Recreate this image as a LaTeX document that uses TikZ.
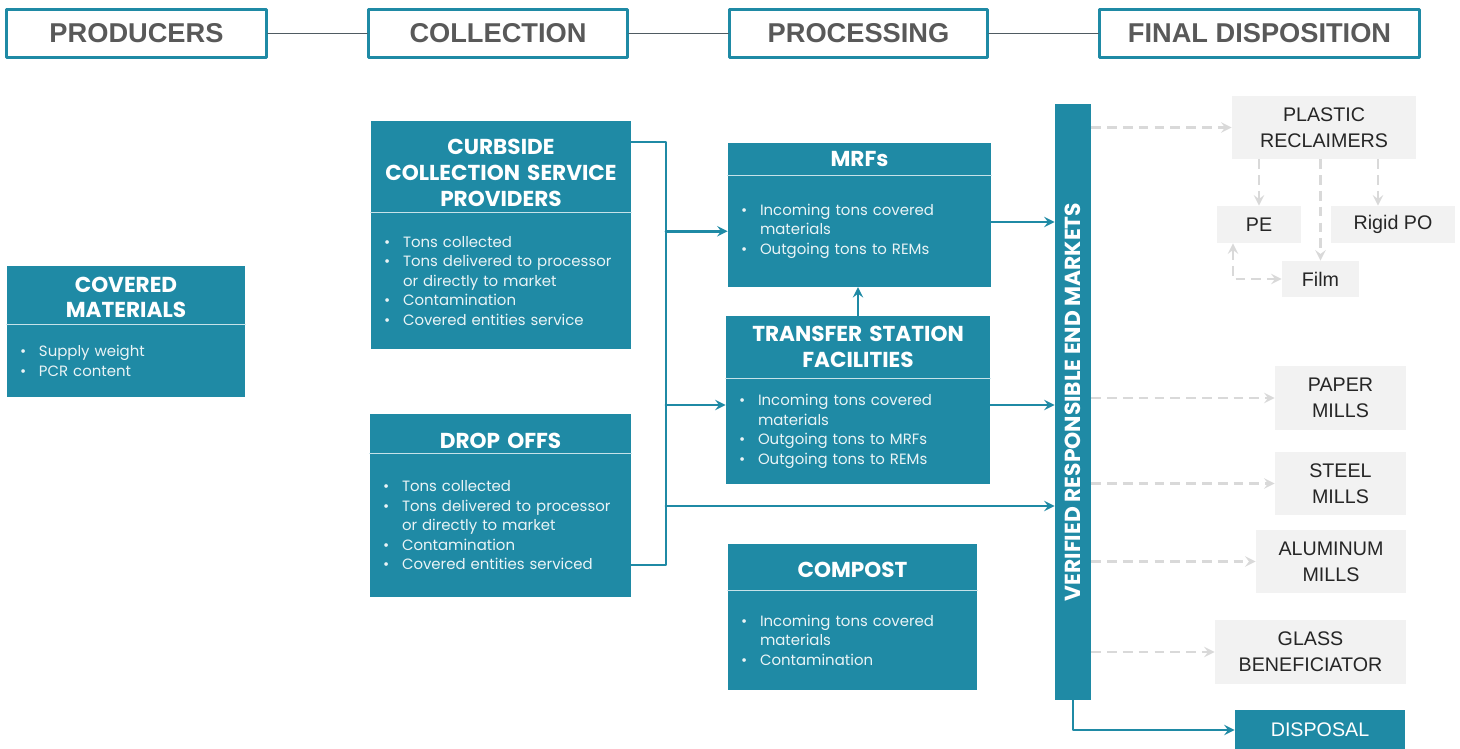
\documentclass[tikz,border=0pt]{standalone}
\usepackage{fontspec}
\setmainfont{Poppins}
\newfontfamily\hdfont{Liberation Sans}
\usetikzlibrary{positioning,arrows}
\definecolor{brandteal}{HTML}{1F8AA5}
\definecolor{bodytext}{HTML}{EAF4F6}
\definecolor{headgray}{HTML}{595959}
\definecolor{linegray}{HTML}{4F5B62}
\definecolor{dashgray}{HTML}{D9D9D9}
\definecolor{boxgray}{HTML}{F2F2F2}
\definecolor{sepcolor}{HTML}{C6E2E9}
\newlength{\px}\setlength{\px}{0.02cm}
\newcommand{\bl}{\makebox[19\px][l]{\textbullet}}
\newcommand{\cont}{\hspace*{19\px}}
\newcommand{\tstrut}[1]{\rule{0pt}{#1\px}}
\begin{document}
\begin{tikzpicture}[x=0.02cm, y=-0.02cm, line cap=round, line join=round, >=stealth]
\tikzset{stage/.style={draw=brandteal, line width=1.6pt, fill=white, text=headgray, font=\hdfont\bfseries\fontsize{15.5}{18}\selectfont, minimum width=#1\px, minimum height=48\px, inner sep=0pt},
	head/.style n args={2}{fill=brandteal, text=white, font=\bfseries\fontsize{12.3}{14.7}\selectfont, align=center, inner sep=0pt, text width=#1\px, minimum height=#2\px},
	body/.style n args={2}{fill=brandteal, text=bodytext, font=\fontsize{8.5}{11.1}\selectfont, align=left, inner xsep=13\px, inner ysep=0pt, text width=#1\px, minimum height=#2\px},
	market/.style n args={2}{fill=boxgray, text=black!85, font=\hdfont\fontsize{11.2}{14.7}\selectfont, align=center, inner sep=0pt, minimum width=#1\px, minimum height=#2\px},
	sep/.style={draw=sepcolor, line width=0.6pt},
	flow/.style={draw=brandteal, line width=1.6pt},
	dashflow/.style={draw=dashgray, line width=1.6pt, dash pattern=on 5.5pt off 3.5pt, line cap=butt}}
\useasboundingbox (0,0) rectangle (1460,748);
% stages
\node[stage=260] (prod) at (136.5,33.5) {PRODUCERS};
\node[stage=259] (coll) at (498,33.5) {COLLECTION};
\node[stage=258] (proc) at (858.5,33.5) {PROCESSING};
\node[stage=320] (fin) at (1259.5,33.5) {FINAL DISPOSITION};
\draw[draw=linegray, line width=0.9pt] (prod) -- (coll) (coll) -- (proc) (proc) -- (fin);
% producers
\node[head={238}{58}] (covH) at (126,295) {\tstrut{20}COVERED\\MATERIALS};
\node[body={212}{72}, below=0pt of covH] (covB) {\bl Supply weight\\ \bl PCR content};
% collection
\node[head={260}{91}] (curbH) at (501,166.5) {\tstrut{28}CURBSIDE\\COLLECTION SERVICE\\PROVIDERS};
\node[body={234}{136}, below=0pt of curbH] (curbB) {\bl Tons collected\\ \bl Tons delivered to processor\\ \cont or directly to market\\ \bl Contamination\\ \bl Covered entities service};
\node[head={261}{39}] (dropH) at (500.5,433.5) {\tstrut{30}DROP OFFS};
\node[body={235}{143}, below=0pt of dropH] (dropB) {\bl Tons collected\\ \bl Tons delivered to processor\\ \cont or directly to market\\ \bl Contamination\\ \bl Covered entities serviced};
% processing
\node[head={263}{32}] (mrfH) at (859.5,159) {\tstrut{16}MRFs};
\node[body={237}{111}, below=0pt of mrfH] (mrfB) {\bl Incoming tons covered\\ \cont materials\\ \bl Outgoing tons to REMs};
\node[head={264}{62}] (tsH) at (858,347) {TRANSFER STATION\\FACILITIES};
\node[body={238}{105}, below=0pt of tsH] (tsB) {\bl Incoming tons covered\\ \cont materials\\ \bl Outgoing tons to MRFs\\ \bl Outgoing tons to REMs};
\node[head={249}{46}] (compH) at (852.5,567) {\tstrut{22}COMPOST};
\node[body={223}{99}, below=0pt of compH] (compB) {\bl Incoming tons covered\\ \cont materials\\ \bl Contamination};
\foreach \n in {covH,curbH,dropH,mrfH,tsH,compH}
	\draw[sep] (\n.south west) -- (\n.south east);
% final disposition
\node[fill=brandteal, text=white, font=\bfseries\fontsize{12.4}{14}\selectfont, rotate=90, inner sep=0pt, minimum width=596\px, minimum height=36\px] (bar) at (1073,402) {VERIFIED RESPONSIBLE END MARKETS};
\node[market={184}{63}] (plast) at (1324,127.5) {PLASTIC\\RECLAIMERS};
\node[market={84}{37}] (pe) at (1259,224.5) {PE};
\node[market={124}{37}] (rigid) at (1393,224.5) {Rigid PO};
\node[market={77}{36}] (film) at (1320.5,279) {Film};
\node[market={131}{64}] (paper) at (1340.5,398) {PAPER\\MILLS};
\node[market={131}{63}] (steel) at (1340.5,483.5) {STEEL\\MILLS};
\node[market={150}{63}] (alum) at (1331,561.5) {ALUMINUM\\MILLS};
\node[market={191}{64}] (glass) at (1310.5,652) {GLASS\\BENEFICIATOR};
\node[market={170}{40}, fill=brandteal, text=white] (disp) at (1320,730) {DISPOSAL};
% collection to processing
\coordinate (trTop) at (666,142);
\coordinate (trBot) at (666,565);
\coordinate (tsIn) at (666,405);
\coordinate (remIn) at (666,506);
\coordinate (mrfOut) at (991,222);
\draw[flow] (curbH.east |- trTop) -- (trTop) -- (trBot) -- (dropB.east |- trBot);
\draw[flow,->] (trTop |- mrfB.west) -- (mrfB.west);
\draw[flow,->] (tsIn) -- (tsIn -| tsB.west);
\draw[flow,->] (remIn) -- (remIn -| bar.north);
\draw[flow,->] (tsH.north) -- (tsH.north |- mrfB.south);
\draw[flow,->] (mrfOut) -- (mrfOut -| bar.north);
\draw[flow,->] (tsIn -| tsB.east) -- (tsIn -| bar.north);
\draw[flow,->] (bar.west) |- (disp.west);
% end markets
\coordinate (rgTop) at ([xshift=-15\px]rigid.north);
\coordinate (peFoot) at ([xshift=-26\px]pe.south);
\foreach \m in {plast,paper,steel,alum,glass}
	\draw[dashflow,->] (bar.south |- \m.west) -- (\m.west);
\draw[dashflow,->] (plast.south -| pe.north) -- (pe.north);
\draw[dashflow,->] (plast.south -| film.north) -- (film.north);
\draw[dashflow,->] (plast.south -| rgTop) -- (rgTop);
\draw[dashflow,<->] (peFoot) |- (film.west);
\end{tikzpicture}
\end{document}
